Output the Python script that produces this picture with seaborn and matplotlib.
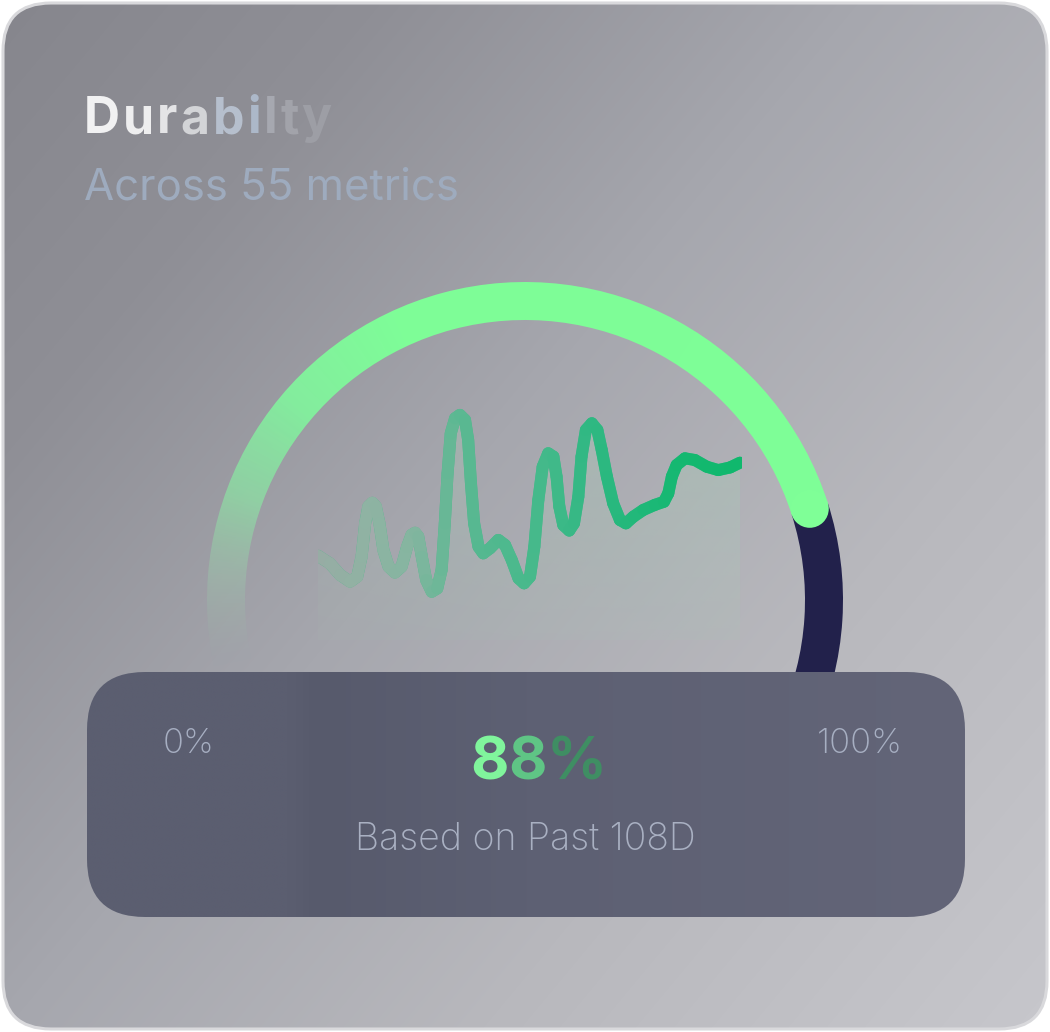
import numpy as np
import matplotlib
matplotlib.use('Agg')
import matplotlib.pyplot as plt
import seaborn as sns
from matplotlib.patches import FancyBboxPatch, Wedge, Circle
from matplotlib.collections import LineCollection
from matplotlib.colors import to_rgb

W, H = 1050, 1032

# sparkline: day index (past 108 days) and score
spark_days = [0, 3.0, 5.6, 8.1, 9.9, 11.0, 11.9, 12.7, 13.7, 14.6, 15.5, 16.5, 17.8, 19.4, 21.1,
              22.5, 23.6, 24.5, 25.3, 26.2, 27.3, 28.7, 30.1, 31.2, 32.0, 32.7, 33.5, 34.6, 35.8,
              37.1, 37.9, 38.6, 39.4, 40.5, 41.7, 43.4, 45.5, 47.2, 48.9, 50.6, 52.0, 53.5, 54.6,
              55.6, 56.7, 58.1, 59.4, 60.2, 60.9, 61.9, 63.4, 64.6, 65.7, 66.5, 67.6, 69.1, 70.5,
              71.6, 72.9, 74.5, 76.2, 77.7, 79.6, 82.1, 85.0, 87.3, 88.4, 89.3, 90.5, 92.6, 95.1,
              98.1, 101.0, 104.0, 106.5]
spark_values = [35.1, 31.9, 27.1, 24.3, 26.4, 34.7, 48.6, 55.6, 57.2, 55.6, 48.6, 37.5, 30.6, 28.1, 30.6,
                38.9, 43.8, 44.7, 43.1, 34.7, 25.0, 20.1, 21.5, 29.2, 48.6, 69.4, 86.1, 92.4, 93.8,
                91.7, 83.3, 65.3, 48.6, 38.9, 36.1, 38.2, 41.7, 39.6, 33.3, 25.7, 23.6, 26.4, 38.9,
                58.3, 72.2, 77.8, 76.4, 68.1, 55.6, 47.9, 45.6, 48.6, 59.7, 76.4, 87.5, 90.3, 87.5,
                79.2, 68.1, 56.9, 50.0, 48.6, 51.4, 54.2, 56.3, 57.6, 61.1, 68.1, 72.9, 75.7, 75.0,
                72.2, 70.8, 71.9, 73.9]

gauge_value = 88
title = "Durabilty"
subtitle = "Across 55 metrics"
low_label = "0%"
high_label = "100%"
value_label = "88%"
note = "Based on Past 108D"


def ramp(stops, t):
    # stops: (position, colour, alpha) -> RGBA array for t
    pos = [s[0] for s in stops]
    cols = np.array([to_rgb(s[1]) for s in stops])
    alph = [s[2] for s in stops]
    out = np.zeros(np.shape(t) + (4,))
    for k in range(3):
        out[..., k] = np.interp(t, pos, cols[:, k])
    out[..., 3] = np.interp(t, pos, alph)
    return out


sns.set_theme(style='white')
plt.rcParams['font.family'] = ['Inter', 'DejaVu Sans']

fig = plt.figure(figsize=(W / 100, H / 100), dpi=100, facecolor='white')
ax = fig.add_axes([0, 0, 1, 1])
ax.axis('off')

# card with diagonal grey gradient
card = FancyBboxPatch((3, 3), W - 6, H - 6, boxstyle='round,pad=0,rounding_size=48',
                      fc='none', ec='#d9d9dc', lw=2.2, zorder=1)
ax.add_patch(card)
yy, xx = np.mgrid[0:H:4, 0:W:4]
t = (xx / W * 1.1 + yy / H * 0.9) / 2
card_img = ramp([(0, '#86868d', 1), (0.2, '#8f8f96', 1), (0.45, '#a6a7ae', 1), (0.7, '#b8b8bd', 1),
                 (1, '#c7c7cc', 1)], t)
im = ax.imshow(card_img, extent=(0, W, H, 0), aspect='auto', zorder=0.5, interpolation='bilinear')
im.set_clip_path(card)

# gauge
cx, cy, r, lw = 525, 600, 299, 38
g_start, g_end = 192, -6
v_ang = g_start - gauge_value / 100 * (g_start - g_end)

track = Wedge((cx, cy), r + lw / 2, -v_ang, 25, width=lw, fc='#22214b', ec='none', zorder=2)
ax.add_patch(track)

green = Wedge((cx, cy), r + lw / 2, -g_start, -v_ang, width=lw, fc='none', ec='none', zorder=3)
ax.add_patch(green)
gy, gx = np.mgrid[250:720, 170:880]
ang = np.degrees(np.arctan2(cy - gy, gx - cx))
ang = np.where(ang < -90, ang + 360, ang)
arc_img = ramp([(0, '#7fff97', 1), (115, '#7efd98', 1), (140, '#84ec9e', 1), (160, '#8fd8a4', 0.85),
                (175, '#9cc4aa', 0.5), (190, '#a0b5aa', 0.05), (200, '#a0b5aa', 0.0)], ang)
im = ax.imshow(arc_img, extent=(170, 880, 720, 250), aspect='auto', zorder=3, interpolation='bilinear')
im.set_clip_path(green)
ax.add_patch(Circle((cx + r * np.cos(np.radians(v_ang)), cy - r * np.sin(np.radians(v_ang))),
                    lw / 2, fc='#7fff97', ec='none', zorder=4))

# bottom panel
panel = FancyBboxPatch((87, 672), 878, 245, boxstyle='round,pad=0,rounding_size=58',
                       fc='none', ec='none', zorder=5)
ax.add_patch(panel)
px = np.linspace(0, 1, 300)[None, :].repeat(20, axis=0)
panel_img = ramp([(0, '#5b5e70', 1), (0.23, '#5b5e70', 1), (0.26, '#575a6c', 1),
                  (0.5, '#5d6073', 1), (1, '#636578', 1)], px)
im = ax.imshow(panel_img, extent=(87, 965, 917, 672), aspect='auto', zorder=5, interpolation='bilinear')
im.set_clip_path(panel)

ax.set_xlim(0, W)
ax.set_ylim(H, 0)

# texts
renderer = fig.canvas.get_renderer()


def char_text(x, y, s, colors, size, weight, track=0):
    for ch, c in zip(s, colors):
        tx = ax.text(x, y, ch, fontsize=size, fontweight=weight, color=c, va='baseline', ha='left', zorder=10)
        x += tx.get_window_extent(renderer=renderer).width + track


char_text(84, 133, title, ['#f1f1f2', '#eeeeef', '#e4e4e6', '#d3d4d7', '#b6bfcd', '#acb8c9',
                           '#a6a8b0', '#a2a3aa', '#9d9ea5'], 36, 'bold', track=3)
ax.text(84, 200, subtitle, fontsize=31.5, color='#9eabbe', va='baseline', ha='left', zorder=10)
ax.text(163, 753, low_label, fontsize=25, fontweight='light', color='#a7afc2', va='baseline', zorder=10)
ax.text(817, 753, high_label, fontsize=25, fontweight='light', color='#a7afc2', va='baseline', zorder=10)
char_text(470, 779, value_label, ['#80f59c', '#5fc585', '#3f8e63'], 42.5, 'bold')
ax.text(355, 850, note, fontsize=27, fontweight='light', color='#a9b0c2', va='baseline', zorder=10)

# sparkline
sax = fig.add_axes([318 / W, 1 - 640 / H, (742 - 318) / W, 240 / H])
sax.patch.set_visible(False)
fill = sax.fill_between(spark_days, spark_values, 0, facecolor='none', edgecolor='none')
fy, fx = np.mgrid[0:100:1, 0:107:1]
fill_img = ramp([(0, '#a6d6b8', 0.08), (40, '#a6d6b8', 0.18), (100, '#a6d6b8', 0.34)], fy)
fill_img[..., 3] *= np.interp(fx, [0, 50, 107], [0.6, 0.9, 1.0])
im = sax.imshow(fill_img, extent=(0, 107, 0, 100), origin='lower', aspect='auto', zorder=1,
                interpolation='bilinear')
im.set_clip_path(fill.get_paths()[0], transform=sax.transData)

sns.lineplot(x=spark_days, y=spark_values, ax=sax, color='#4cb88c', linewidth=8.6, zorder=2)
pts = np.column_stack([spark_days, spark_values])
segs = np.stack([pts[:-1], pts[1:]], axis=1)
mid = (pts[:-1, 0] + pts[1:, 0]) / 2
seg_cols = ramp([(0, '#98aba4', 1), (13, '#8fb3a3', 1), (24, '#85b5a0', 1), (36, '#5bb892', 1),
                 (58, '#43b98a', 1), (69, '#30b883', 1), (92, '#14b871', 1), (107, '#10b86c', 1)], mid)
lc = LineCollection(segs, colors=seg_cols, linewidths=8.6, capstyle='round', joinstyle='round', zorder=3)
sax.add_collection(lc)
sax.set_xlim(0, 107)
sax.set_ylim(0, 100)
sax.axis('off')

fig.savefig('out.png', dpi=100, facecolor='white')
